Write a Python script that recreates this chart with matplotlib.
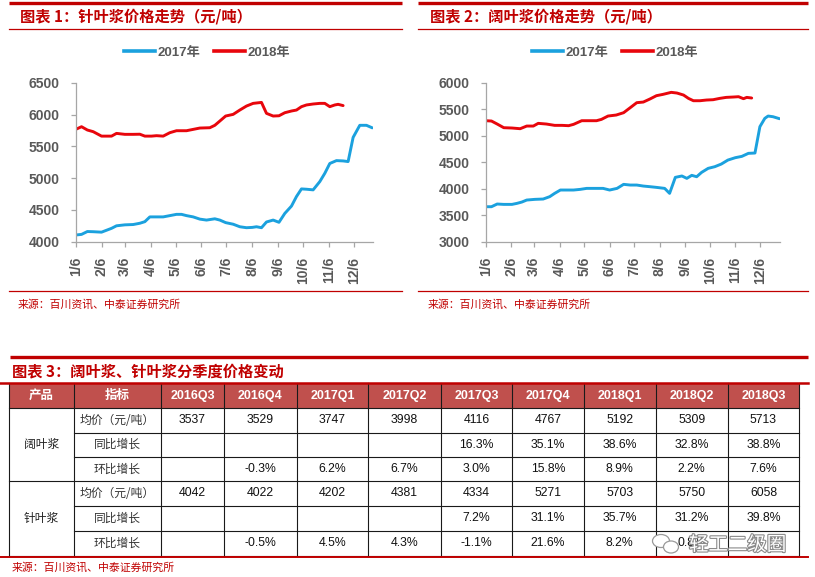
import matplotlib
matplotlib.use('Agg')
import matplotlib.pyplot as plt
from matplotlib import patheffects as pe
from matplotlib.patches import Rectangle, Ellipse
from matplotlib.lines import Line2D

plt.rcParams['font.family'] = ['Liberation Sans', 'Noto Sans CJK SC', 'DejaVu Sans']

# ---------------- data ----------------
month_tick_days = [5, 36, 64, 95, 125, 156, 186, 217, 248, 278, 309, 339]
month_tick_labels = ['1/6', '2/6', '3/6', '4/6', '5/6', '6/6', '7/6', '8/6', '9/6', '10/6', '11/6', '12/6']

# chart 1: softwood (针叶浆)
soft_2017_day = [5, 12, 19, 26, 36, 42, 48, 54, 64, 74, 82, 88, 94, 102, 110, 118, 126, 132, 138, 146,
                 154, 162, 172, 178, 185, 194, 202, 210, 217, 222, 228, 234, 242, 249, 256, 264, 270, 276,
                 282, 290, 298, 304, 310, 318, 326, 332, 338, 346, 354, 361]
soft_2017_val = [4105, 4115, 4160, 4157, 4150, 4180, 4210, 4250, 4265, 4270, 4290, 4315, 4390, 4390, 4390,
                 4410, 4430, 4430, 4410, 4390, 4355, 4340, 4360, 4340, 4300, 4275, 4235, 4220, 4225, 4235,
                 4220, 4310, 4340, 4305, 4445, 4560, 4710, 4830, 4825, 4815, 4945, 5075, 5230, 5275, 5270,
                 5260, 5640, 5830, 5830, 5790]
soft_2018_day = [5, 12, 19, 26, 36, 42, 48, 54, 64, 74, 82, 88, 96, 102, 110, 118, 126, 138, 146, 154,
                 166, 172, 178, 185, 194, 202, 210, 218, 228, 234, 242, 249, 256, 264, 270, 276, 282, 290,
                 298, 304, 310, 316, 320, 326]
soft_2018_val = [5766, 5808, 5756, 5730, 5660, 5660, 5660, 5703, 5688, 5688, 5690, 5660, 5660, 5667, 5660,
                 5714, 5745, 5745, 5766, 5787, 5792, 5830, 5897, 5976, 6002, 6070, 6133, 6175, 6190, 6018,
                 5976, 5980, 6028, 6055, 6070, 6123, 6150, 6165, 6175, 6175, 6123, 6150, 6160, 6140]

# chart 2: hardwood (阔叶浆)
hard_2017_day = [5, 12, 19, 27, 37, 43, 49, 55, 65, 75, 83, 89, 96, 104, 112, 120, 128, 140, 148, 156,
                 165, 173, 181, 189, 197, 205, 213, 223, 229, 236, 244, 250, 256, 262, 268, 276, 284, 292,
                 300, 309, 317, 325, 333, 339, 345, 349, 355, 363]
hard_2017_val = [3660, 3660, 3711, 3704, 3704, 3723, 3748, 3786, 3799, 3805, 3850, 3912, 3975, 3975, 3975,
                 3987, 4006, 4006, 4006, 3975, 4006, 4082, 4069, 4069, 4050, 4038, 4025, 4006, 3912, 4214,
                 4240, 4195, 4252, 4226, 4308, 4384, 4415, 4465, 4540, 4585, 4610, 4667, 4673, 5170, 5327,
                 5371, 5358, 5320]
hard_2018_day = [5, 12, 19, 27, 37, 47, 55, 63, 69, 79, 89, 98, 106, 112, 122, 132, 140, 146, 154, 164,
                 173, 181, 189, 197, 205, 213, 221, 231, 238, 246, 252, 258, 266, 274, 282, 290, 298, 307,
                 313, 319, 323, 329]
hard_2018_val = [5283, 5277, 5220, 5151, 5145, 5132, 5182, 5182, 5233, 5220, 5195, 5195, 5189, 5214, 5283,
                 5283, 5283, 5308, 5371, 5390, 5434, 5528, 5623, 5635, 5692, 5755, 5780, 5818, 5805, 5767,
                 5704, 5660, 5660, 5673, 5679, 5704, 5723, 5730, 5736, 5698, 5723, 5711]

# table 3
quarters = ['2016Q3', '2016Q4', '2017Q1', '2017Q2', '2017Q3', '2017Q4', '2018Q1', '2018Q2', '2018Q3']
products = ['阔叶浆', '针叶浆']
metrics = ['均价（元/吨）', '同比增长', '环比增长']
hard_price = [3537, 3529, 3747, 3998, 4116, 4767, 5192, 5309, 5713]
hard_yoy = [None, None, None, None, 16.3, 35.1, 38.6, 32.8, 38.8]
hard_qoq = [None, -0.3, 6.2, 6.7, 3.0, 15.8, 8.9, 2.2, 7.6]
soft_price = [4042, 4022, 4202, 4381, 4334, 5271, 5703, 5750, 6058]
soft_yoy = [None, None, None, None, 7.2, 31.1, 35.7, 31.2, 39.8]
soft_qoq = [None, -0.5, 4.5, 4.3, -1.1, 21.6, 8.2, 0.8, None]

titles = ['图表 1：针叶浆价格走势（元/吨）', '图表 2：阔叶浆价格走势（元/吨）',
          '图表 3：阔叶浆、针叶浆分季度价格变动']
source = '来源：百川资讯、中泰证券研究所'
series_names = ['2017年', '2018年']

# ---------------- style ----------------
W, H = 815, 577
BLUE = '#1BA1DE'
RED = '#E8060C'
DARKRED = '#C00000'
GRAY = '#595959'
AXC = '#A6A6A6'
CJK = ['Noto Sans CJK SC', 'DejaVu Sans']

fig = plt.figure(figsize=(W / 100, H / 100), dpi=100)


def rect(x0, y0, x1, y1):
    return [x0 / W, 1 - y1 / H, (x1 - x0) / W, (y1 - y0) / H]


ov = fig.add_axes([0, 0, 1, 1], zorder=0)
ov.set_xlim(0, W)
ov.set_ylim(H, 0)
ov.axis('off')


def chart(box, xmax, ylim, d17, v17, d18, v18, legend_center):
    ax = fig.add_axes(rect(*box), zorder=2)
    ax.patch.set_alpha(0)
    ax.plot(d17, v17, color=BLUE, lw=2.1, solid_joinstyle='round', solid_capstyle='round')
    ax.plot(d18, v18, color=RED, lw=2.1, solid_joinstyle='round', solid_capstyle='round')
    ax.set_xlim(5, xmax)
    ax.set_ylim(*ylim)
    ax.set_yticks(range(ylim[0], ylim[1] + 1, 500))
    ax.set_xticks(month_tick_days)
    ax.set_xticklabels(month_tick_labels, rotation=90)
    for s in ['top', 'right']:
        ax.spines[s].set_visible(False)
    for s in ['left', 'bottom']:
        ax.spines[s].set_color(AXC)
        ax.spines[s].set_linewidth(0.9)
    ax.tick_params(colors=AXC, labelcolor=GRAY, labelsize=10, length=3.5, width=0.9)
    ax.tick_params(axis='y', pad=8)
    ax.tick_params(axis='x', pad=7.5)
    for lab in ax.get_xticklabels() + ax.get_yticklabels():
        lab.set_fontweight('bold')
    handles = [Line2D([], [], color=BLUE, lw=2.6), Line2D([], [], color=RED, lw=2.6)]
    leg = fig.legend(handles, series_names, loc='center',
                     bbox_to_anchor=(legend_center[0] / W, 1 - legend_center[1] / H),
                     ncol=2, frameon=False, handlelength=2.35, handletextpad=0.2,
                     columnspacing=1.0, prop={'weight': 'bold', 'size': 9.5})
    for t in leg.get_texts():
        t.set_color(GRAY)
    return ax


chart((75.7, 82.7, 372.7, 241.7), 361.5, (4000, 6500),
      soft_2017_day, soft_2017_val, soft_2018_day, soft_2018_val, (207, 53))
chart((485.7, 82.7, 780, 241.7), 363.5, (3000, 6000),
      hard_2017_day, hard_2017_val, hard_2018_day, hard_2018_val, (615, 53))

# panel decorations
for x0, x1, tx in [(9, 402, 20), (418, 808, 428)]:
    ov.plot([x0, x1], [3, 3], color=DARKRED, lw=2.4, solid_capstyle='butt')
    ov.plot([x0, x1], [28.5, 28.5], color=DARKRED, lw=0.9)
    ov.plot([x0, x1], [291, 291], color=DARKRED, lw=0.9)
ov.text(20, 16.5, titles[0], color=DARKRED, fontsize=11, fontweight='bold', va='center', family=CJK)
ov.text(430, 16.5, titles[1], color=DARKRED, fontsize=11, fontweight='bold', va='center', family=CJK)
ov.text(18, 305, source, color=DARKRED, fontsize=7.8, va='center', family=CJK)
ov.text(428, 305, source, color=DARKRED, fontsize=7.8, va='center', family=CJK)

# ---------------- table ----------------
ov.plot([10, 808], [357, 357], color=DARKRED, lw=2.4, solid_capstyle='butt')
ov.text(12, 371, titles[2], color=DARKRED, fontsize=11, fontweight='bold', va='center', family=CJK)

col_edges = [9.3, 74, 160.7, 224.3, 296.7, 368.3, 440.7, 512.3, 584, 655.7, 727.7, 799.3]
row_edges = [383.3, 408.3, 432.5, 457, 481.3, 505.7, 531, 555.5]

ov.add_patch(Rectangle((col_edges[0], row_edges[0]), col_edges[-1] - col_edges[0],
                       row_edges[1] - row_edges[0], facecolor='#C0504D', edgecolor='none'))
LC = '#1a1a1a'
for x in col_edges:
    ov.plot([x, x], [row_edges[0], row_edges[-1]], color=LC, lw=0.8)
for i, y in enumerate(row_edges[1:], start=1):
    x0 = col_edges[0] if i in (1, 4, 7) else col_edges[1]
    ov.plot([x0, col_edges[-1]], [y, y], color=LC, lw=0.8)
ov.plot([0, 808], [383.3, 383.3], color=DARKRED, lw=1.8)
ov.plot([0, 808], [556.5, 556.5], color=DARKRED, lw=1.4)


def cx(i):
    return (col_edges[i] + col_edges[i + 1]) / 2


def cy(j):
    return (row_edges[j] + row_edges[j + 1]) / 2


hdr = ['产品', '指标'] + quarters
for i, h in enumerate(hdr):
    ov.text(cx(i), cy(0), h, color='white', fontsize=9, fontweight='bold',
            ha='center', va='center', family=['Liberation Sans', 'Noto Sans CJK SC'])


def fmt(v, pct):
    if v is None:
        return ''
    return f'{v:.1f}%' if pct else f'{v}'


groups = [(hard_price, hard_yoy, hard_qoq), (soft_price, soft_yoy, soft_qoq)]
for g, rows in enumerate(groups):
    r0 = 1 + 3 * g
    ov.text(cx(0), (row_edges[r0] + row_edges[r0 + 3]) / 2, products[g], fontsize=8.5,
            color='#222222', ha='center', va='center', family=CJK)
    for k, vals in enumerate(rows):
        r = r0 + k
        ov.text(cx(1), cy(r), metrics[k], fontsize=8.5, color='#333333',
                ha='center', va='center', family=CJK)
        for q, v in enumerate(vals):
            ov.text(cx(q + 2), cy(r), fmt(v, k > 0), fontsize=8.8, color='#111111',
                    ha='center', va='center')

ov.text(12, 568, source, color=DARKRED, fontsize=7.8, va='center', family=CJK)

# watermark
ov.add_patch(Ellipse((661, 541), 17, 13, facecolor='white', edgecolor='#9a9a9a', lw=0.9, zorder=5))
ov.add_patch(Ellipse((671, 547), 15, 12, facecolor='white', edgecolor='#9a9a9a', lw=0.9, zorder=5))
ov.text(689, 545, '轻工二级圈', fontsize=14, color='white', va='center', family=CJK, zorder=6,
        path_effects=[pe.Stroke(linewidth=1.6, foreground='#8a8a8a'), pe.Normal()])

fig.savefig('out.png', dpi=100)
